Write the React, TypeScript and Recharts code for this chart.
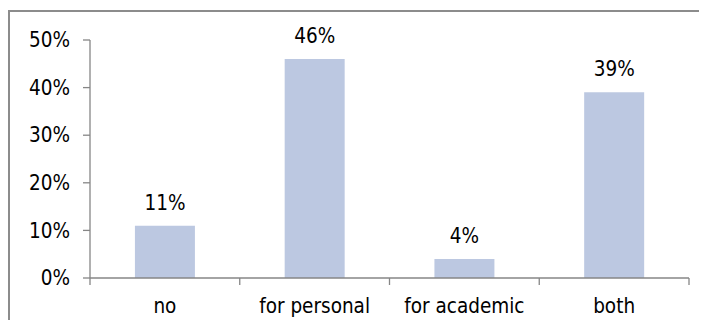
import React from 'react';
import { BarChart, Bar, XAxis, YAxis, LabelList } from 'recharts';

// Share of respondents by answer
const categories = ['no', 'for personal', 'for academic', 'both'];
const shares = [11, 46, 4, 39];
const yTicks = [0, 10, 20, 30, 40, 50];

const data = categories.map((name, i) => ({ name, share: shares[i] }));

const W = 707;
const H = 328;
const MARGIN = { top: 40, right: 18, bottom: 0, left: 0 };
const Y_AXIS_W = 90;
const X_AXIS_H = 50;
const FONT = '"DejaVu Sans Condensed", "DejaVu Sans", sans-serif';
const FONT_SIZE = 20.5;
const AXIS = '#868686';
const BAR = '#BCC8E1';

// half of one category band, used to place the boundary tick marks
const halfBand = (W - MARGIN.left - Y_AXIS_W - MARGIN.right) / categories.length / 2;

const pct = (v: number) => `${v}%`;

function CategoryTick(props: any) {
  const { x, y, payload, index } = props;
  const last = index === categories.length - 1;
  return (
    <g>
      <line x1={x - halfBand} x2={x - halfBand} y1={y} y2={y + 7} stroke={AXIS} strokeWidth={1.3} />
      {last && (
        <line x1={x + halfBand} x2={x + halfBand} y1={y} y2={y + 7} stroke={AXIS} strokeWidth={1.3} />
      )}
      <text
        x={x}
        y={y + 35}
        textAnchor="middle"
        fill="#000"
        fontFamily={FONT}
        fontSize={FONT_SIZE}
      >
        {payload.value}
      </text>
    </g>
  );
}

export default function App() {
  return (
    <div
      style={{
        position: 'relative',
        width: W,
        height: H,
        margin: -8,
        overflow: 'hidden',
        background: '#fff',
        fontFamily: FONT,
      }}
    >
      <div
        style={{
          position: 'absolute',
          left: 8,
          top: 10,
          width: 760,
          height: 380,
          border: '2px solid #8c8c8c',
        }}
      />
      <div style={{ position: 'absolute', left: 0, top: 0 }}>
        <BarChart width={W} height={H} data={data} margin={MARGIN} barCategoryGap="30%">
          <XAxis
            dataKey="name"
            height={X_AXIS_H}
            tickLine={false}
            tickSize={0}
            tickMargin={0}
            axisLine={{ stroke: AXIS, strokeWidth: 1.3 }}
            tick={<CategoryTick />}
            interval={0}
          />
          <YAxis
            width={Y_AXIS_W}
            domain={[0, 50]}
            ticks={yTicks}
            tickFormatter={pct}
            tickSize={7}
            tickMargin={13}
            axisLine={{ stroke: AXIS, strokeWidth: 1.3 }}
            tickLine={{ stroke: AXIS, strokeWidth: 1.3 }}
            tick={{ fill: '#000', fontFamily: FONT, fontSize: FONT_SIZE }}
          />
          <Bar dataKey="share" fill={BAR} isAnimationActive={false}>
            <LabelList
              dataKey="share"
              position="top"
              offset={16}
              formatter={(v: any) => pct(v)}
              fill="#000"
              fontFamily={FONT}
              fontSize={FONT_SIZE}
            />
          </Bar>
        </BarChart>
      </div>
    </div>
  );
}
